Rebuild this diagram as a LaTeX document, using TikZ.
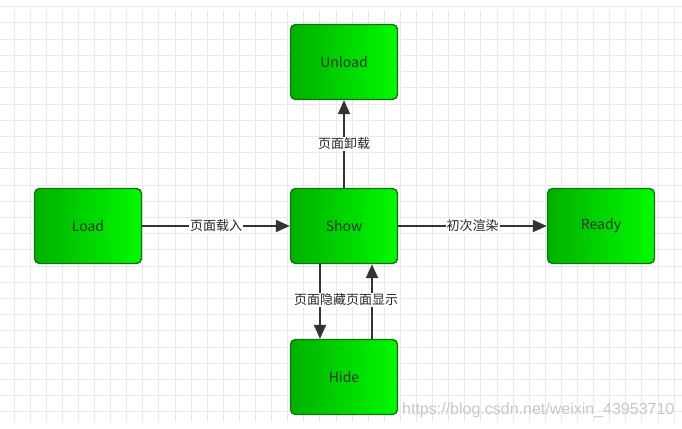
\documentclass[tikz,border=0pt]{standalone}
\usepackage{fontspec}
\setmainfont{Noto Sans CJK SC}
\newfontfamily\wmfont{Liberation Sans}
\usetikzlibrary{arrows.meta}
\definecolor{gridc}{HTML}{E9E9E9}
\definecolor{boxl}{HTML}{00B000}
\definecolor{boxr}{HTML}{00FA00}
\definecolor{boxb}{HTML}{157015}
\definecolor{arrc}{HTML}{333333}
\tikzset{
  state/.style={draw=boxb, line width=1.4pt, rounded corners=5pt, left color=boxl, right color=boxr,
    minimum width=107pt, minimum height=75pt, inner sep=0pt, font=\fontsize{14}{16}\selectfont, text=black!80},
  conn/.style={draw=arrc, line width=2pt, -{Triangle[length=14pt,width=12pt]}},
  lbl/.style={fill=white, inner sep=1pt, font=\fontsize{13}{15}\selectfont, text=black!85},
}
\begin{document}
\begin{tikzpicture}[x=1pt,y=-1pt]
\useasboundingbox (0,0) rectangle (682,428);
\fill[white] (0,0) rectangle (682,428);
% grid
\foreach \i in {0,...,41} { \draw[gridc, line width=1pt] ({14+16.1*\i},10) -- ({14+16.1*\i},422); }
\foreach \j in {0,...,24} { \draw[gridc, line width=1pt] (0,{23+16.2*\j}) -- (682,{23+16.2*\j}); }
\draw[gridc, line width=1pt] (0,7) -- (682,7);
% nodes
\node[state] (unload) at (344,62) {Unload};
\node[state] (load) at (88,226) {Load};
\node[state] (show) at (344,226) {Show};
\node[state] (ready) at (601,226) {Ready};
\node[state] (hide) at (344,377) {Hide};
% connectors
\draw[conn] (load) -- node[lbl, pos=0.5] {页面载入} (show);
\draw[conn] (show) -- node[lbl, pos=0.5] {初次渲染} (ready);
\draw[conn] (show) -- node[lbl, pos=0.5] {页面卸载} (unload);
\draw[conn] (show.south -| 320,0) -- node[lbl, pos=0.48, inner xsep=0pt] {页面隐藏} (hide.north -| 320,0);
\draw[conn] (hide.north -| 372,0) -- node[lbl, pos=0.52, inner xsep=0pt] {页面显示} (show.south -| 372,0);
% watermark
\node[anchor=west, text=black!22, font=\wmfont\fontsize{16}{18}\selectfont, inner sep=0pt] (wm) at (402,410) {https://blog.csdn.net/weixin\_43953710};
\end{tikzpicture}
\end{document}
